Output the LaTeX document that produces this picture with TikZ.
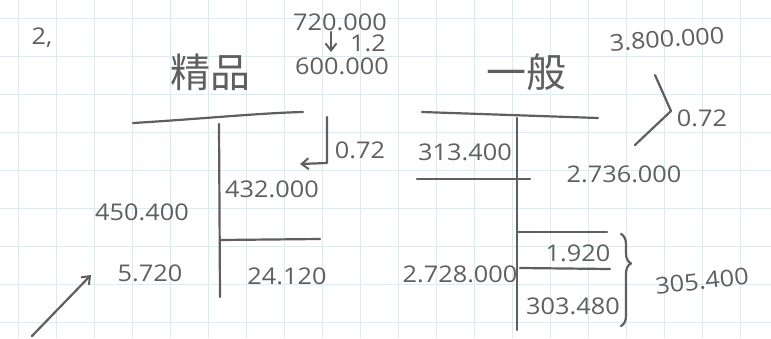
\documentclass[tikz,border=0pt]{standalone}
\usepackage{fontspec}
\setmainfont[FakeStretch=1.1]{Open Sans}
\newfontfamily\cjk{Noto Sans CJK SC}
\usetikzlibrary{arrows.meta,decorations.pathreplacing}
\definecolor{gridc}{RGB}{210,240,244}
\definecolor{penc}{RGB}{95,95,95}
\tikzset{
  pen/.style={draw=penc,line width=2.2pt,line cap=round,line join=round},
  num/.style={text=penc,font=\fontsize{23}{23}\selectfont,inner sep=0pt},
  title/.style={text=penc,font=\cjk\fontsize{40}{40}\selectfont,inner sep=0pt},
  tip/.style={-{Straight Barb[length=7pt,width=11pt,line width=2pt]}}
}
\begin{document}
\begin{tikzpicture}[x=1pt,y=-1pt]
\useasboundingbox (0,0) rectangle (771,338);
\fill[white] (0,0) rectangle (771,338);
% grid
\foreach \g in {18,56,...,771} \draw[gridc,line width=1pt] (\g,0) -- (\g,338);
\foreach \g in {18,56,...,338} \draw[gridc,line width=1pt] (0,\g) -- (771,\g);

% heading
\node[num] (no) at (42,38) {2,};

% left account
\node[title] (tl) at (210,72) {精品};
\node[num] (l720) at (340,22) {720.000};
\node[num] (l600) at (342,66) {600.000};
\coordinate (la1) at (331,32);
\coordinate (la2) at (331,52);
\draw[pen,tip] (la1) -- (la2);
\node[num] (l12) at (368,43) {1.2};
\coordinate (lh1) at (133,123);
\coordinate (lh2) at (303,112);
\draw[pen] (lh1) .. controls (200,119) and (260,113) .. (lh2);
\coordinate (lv1) at (219,124);
\coordinate (lv2) at (220,297);
\draw[pen] (lv1) -- (lv2);
\coordinate (lm1) at (220,240);
\coordinate (lm2) at (320,239);
\draw[pen] (lm1) -- (lm2);
\coordinate (lb1) at (327,117);
\coordinate (lb2) at (327,163);
\coordinate (lb3) at (300,164);
\draw[pen,tip] (lb1) -- (lb2) -- (lb3);
\node[num] (l072) at (360,150) {0.72};
\node[num] (l432) at (272,189) {432.000};
\node[num] (l450) at (142,212) {450.400};
\node[num] (l5720) at (150,273) {5.720};
\node[num] (l24) at (287,276) {24.120};
\coordinate (lq) at (32,336);
\coordinate (lq2) at (91,275);
\draw[pen,tip] (lq) -- (lq2);

% right account
\node[title] (tr) at (526,72) {一般};
\node[num,rotate=4] (r38) at (667,39) {3.800.000};
\coordinate (rh1) at (422,112);
\coordinate (rh2) at (598,118);
\draw[pen] (rh1) -- (rh2);
\coordinate (rv1) at (517,118);
\coordinate (rv2) at (517,330);
\draw[pen] (rv1) -- (rv2);
\node[num] (r313) at (465,152) {313.400};
\coordinate (rs1) at (417,179);
\coordinate (rs2) at (530,179);
\draw[pen] (rs1) -- (rs2);
\node[num] (r2736) at (624,174) {2.736.000};
\coordinate (rk1) at (655,75);
\coordinate (rk2) at (671,111);
\coordinate (rk3) at (635,145);
\draw[pen] (rk1) -- (rk2) -- (rk3);
\node[num] (r072) at (702,118) {0.72};
\coordinate (rm1) at (518,232);
\coordinate (rm2) at (607,232);
\draw[pen] (rm1) -- (rm2);
\node[num] (r1920) at (578,253) {1.920};
\coordinate (rn1) at (520,268);
\coordinate (rn2) at (610,269);
\draw[pen] (rn1) -- (rn2);
\node[num] (r2728) at (460,274) {2.728.000};
\node[num] (r303) at (573,306) {303.480};
\coordinate (rbr1) at (621,234);
\coordinate (rbr2) at (621,326);
\draw[pen,decorate,decoration={brace,amplitude=10pt,aspect=0.32}] (rbr1) -- (rbr2);
\node[num,rotate=6] (r305) at (702,281) {305.400};
\end{tikzpicture}
\end{document}
